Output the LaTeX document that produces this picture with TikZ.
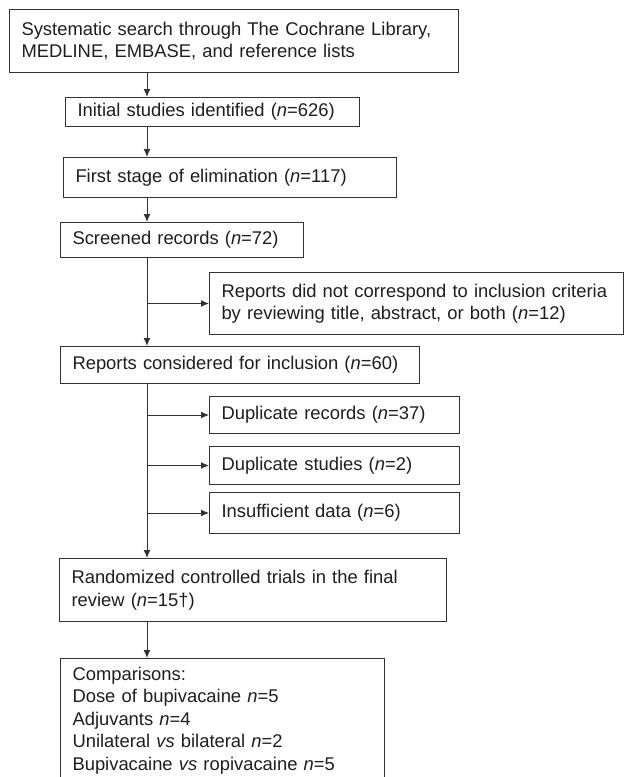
\documentclass[tikz,border=0pt]{standalone}
\usepackage{fontspec}
\setmainfont{Liberation Sans}
\usetikzlibrary{arrows.meta,calc}
\definecolor{ln}{HTML}{333333}
\definecolor{tx}{HTML}{1E1E1E}
\begin{document}
\begin{tikzpicture}[x=1pt,y=1pt,
  fbox/.style={draw=ln, line width=1pt, rectangle, anchor=north west,
    inner xsep=12pt, inner ysep=0pt, align=left, text=tx,
    font=\fontsize{18.4pt}{22.5pt}\selectfont},
  arr/.style={draw=ln, line width=1pt, -{Latex[length=8pt,width=7pt]}},
  ln/.style={draw=ln, line width=1pt}]
\useasboundingbox (0,0) rectangle (627,-777);
\newcommand{\nn}{\textit{n}}
\node[fbox, minimum width=449pt, text width=425pt, minimum height=63pt] (b1) at (9,-9)
  {Systematic search through The Cochrane Library,\\MEDLINE, EMBASE, and reference lists};
\node[fbox, minimum width=294pt, text width=270pt, minimum height=29pt] (b2) at (65,-97)
  {Initial studies identified (\nn=626)};
\node[fbox, minimum width=333pt, text width=309pt, minimum height=40pt] (b3) at (63,-157)
  {First stage of elimination (\nn=117)};
\node[fbox, minimum width=243pt, text width=219pt, minimum height=35pt] (b4) at (60,-222)
  {Screened records (\nn=72)};
\node[fbox, minimum width=414pt, text width=390pt, minimum height=62pt] (b5) at (209,-272)
  {Reports did not correspond to inclusion criteria\\by reviewing title, abstract, or both (\nn=12)};
\node[fbox, minimum width=359pt, text width=335pt, minimum height=37pt] (b6) at (60,-346)
  {Reports considered for inclusion (\nn=60)};
\node[fbox, minimum width=250pt, text width=226pt, minimum height=37pt] (b7) at (209,-396)
  {Duplicate records (\nn=37)};
\node[fbox, minimum width=250pt, text width=226pt, minimum height=38pt] (b8) at (209,-446)
  {Duplicate studies (\nn=2)};
\node[fbox, minimum width=250pt, text width=226pt, minimum height=41pt] (b9) at (209,-492)
  {Insufficient data (\nn=6)};
\node[fbox, minimum width=387pt, text width=363pt, minimum height=63pt] (b10) at (59,-558)
  {Randomized controlled trials in the final\\review (\nn=15†)};
\node[fbox, minimum width=324pt, text width=300pt, minimum height=124pt] (b11) at (60,-658)
  {Comparisons:\\Dose of bupivacaine \nn=5\\Adjuvants \nn=4\\Unilateral \textit{vs} bilateral \nn=2\\Bupivacaine \textit{vs} ropivacaine \nn=5};
\coordinate (sp) at (147,0);
\draw[arr] (b1.south -| sp) -- (b2.north -| sp);
\draw[arr] (b2.south -| sp) -- (b3.north -| sp);
\draw[arr] (b3.south -| sp) -- (b4.north -| sp);
\draw[arr] (b4.south -| sp) -- (b6.north -| sp);
\coordinate (j5) at (sp |- b5.west);
\draw[arr] (j5) -- (b5.west);
\draw[arr] (b6.south -| sp) -- (b10.north -| sp);
\coordinate (j7) at (sp |- b7.west);
\coordinate (j8) at (sp |- b8.west);
\coordinate (j9) at (sp |- b9.west);
\draw[arr] (j7) -- (b7.west);
\draw[arr] (j8) -- (b8.west);
\draw[arr] (j9) -- (b9.west);
\draw[arr] (b10.south -| sp) -- (b11.north -| sp);
\end{tikzpicture}
\end{document}
